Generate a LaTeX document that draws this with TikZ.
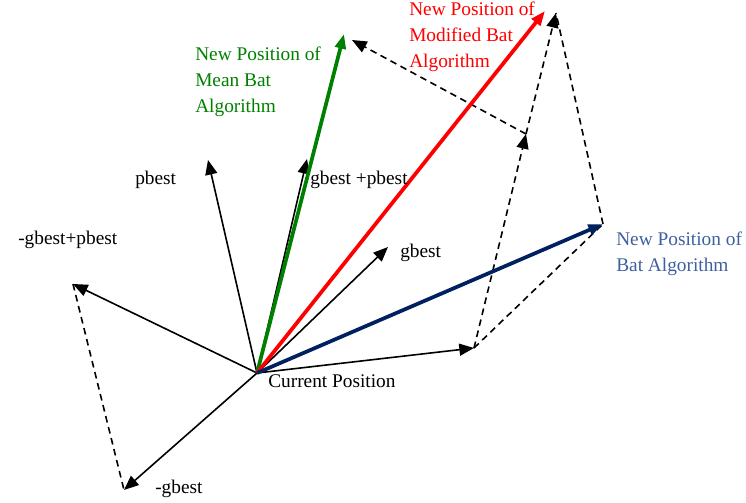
\documentclass[tikz,border=0pt]{standalone}
\usepackage{fontspec}
\setmainfont{Liberation Serif}
\usetikzlibrary{arrows.meta}

\definecolor{meangreen}{RGB}{0,128,0}
\definecolor{batnavy}{RGB}{0,32,96}
\definecolor{battext}{RGB}{62,96,160}

\begin{document}
\begin{tikzpicture}[x=0.75pt,y=-0.75pt,
  vec/.style={-{Triangle[length=11pt,width=9pt]},line width=1.2pt},
  newpos/.style={-{Triangle[length=11pt,width=8pt]},line width=2.8pt},
  dline/.style={line width=1.2pt,dash pattern=on 5pt off 3.5pt},
  lbl/.style={font=\fontsize{14.5}{19.5}\selectfont,inner sep=0pt}]
\useasboundingbox (0,0) rectangle (746,503);

% points
\coordinate (O) at (257,373);
\coordinate (pb) at (208,160);
\coordinate (gp) at (307,159);
\coordinate (g) at (388,247);
\coordinate (ng) at (124,490);
\coordinate (ngp) at (73,284);
\coordinate (h) at (474,348);
\coordinate (k) at (526,134);
\coordinate (mean) at (344,34);
\coordinate (meanb) at (352,40);
\coordinate (mod) at (545,11);
\coordinate (modb) at (556,13);
\coordinate (bat) at (603,224);

% single vectors
\draw[vec] (O) -- (pb);
\draw[vec] (O) -- (gp);
\draw[vec] (O) -- (g);
\draw[vec] (O) -- (ng);
\draw[vec] (O) -- (ngp);
\draw[vec] (O) -- (h);

% parallelogram sides
\draw[dline] (ngp) -- (ng);
\draw[dline,-{Triangle[length=11pt,width=9pt]}] (h) -- (k);
\draw[dline,-{Triangle[length=11pt,width=9pt]}] (k) -- (meanb);
\draw[dline,-{Triangle[length=11pt,width=9pt]}] (k) -- (modb);
\draw[dline] (bat) -- (modb);
\draw[dline] (h) -- (bat);

% new positions
\draw[newpos,meangreen] (O) -- (mean);
\draw[newpos,red] (O) -- (mod);
\draw[newpos,batnavy] (O) -- (bat);

% labels
\node[lbl,anchor=west] (pbl) at (135,180) {pbest};
\node[lbl,anchor=west] (gpl) at (310,180) {gbest +pbest};
\node[lbl,anchor=west] (ngpl) at (18,240) {-gbest+pbest};
\node[lbl,anchor=west] (gl) at (400,253) {gbest};
\node[lbl,anchor=west] (ol) at (268,381) {Current Position};
\node[lbl,anchor=west] (ngl) at (155,489) {-gbest};
\node[lbl,anchor=north west,align=left,text=meangreen] (meanl) at (195,47)
  {New Position of\\Mean Bat\\Algorithm};
\node[lbl,anchor=north west,align=left,text=red] (modl) at (409,2)
  {New Position of\\Modified Bat\\Algorithm};
\node[lbl,anchor=north west,align=left,text=battext] (batl) at (616,232)
  {New Position of\\Bat Algorithm};
\end{tikzpicture}
\end{document}
